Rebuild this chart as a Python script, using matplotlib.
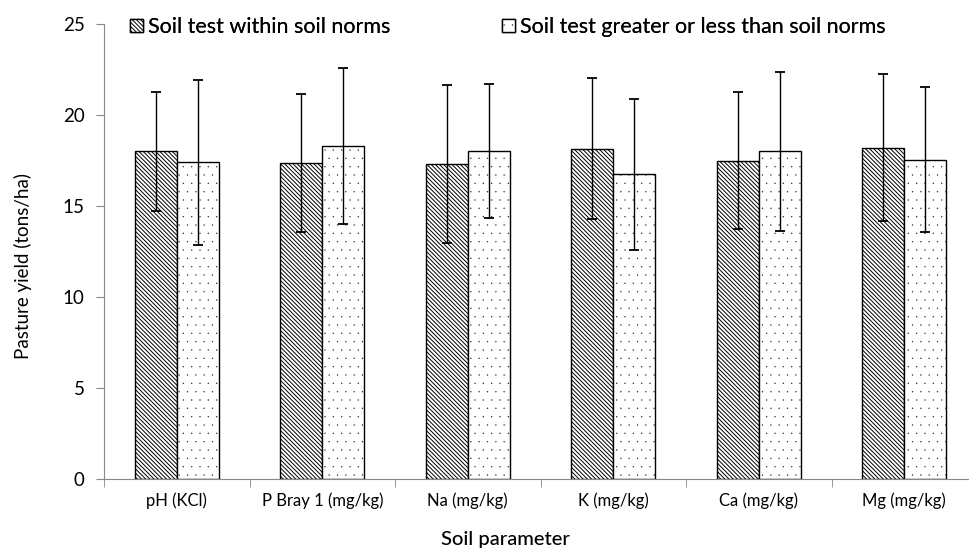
import matplotlib
matplotlib.use("Agg")
import matplotlib.pyplot as plt
import matplotlib.hatch as mhatch
import numpy as np

plt.rcParams['font.family'] = ['Lato', 'DejaVu Sans']
plt.rcParams['hatch.linewidth'] = 0.7


class TinyDots(mhatch.Circles):
    size = 0.024
    filled = True

    def __init__(self, hatch, density):
        self.num_rows = hatch.count('.') * density
        super().__init__(hatch, density)


mhatch._hatch_types = [TinyDots if t is mhatch.SmallFilledCircles else t
                       for t in mhatch._hatch_types]

categories = ["pH (KCl)", "P Bray 1 (mg/kg)", "Na (mg/kg)", "K (mg/kg)", "Ca (mg/kg)", "Mg (mg/kg)"]
within = [18.0, 17.35, 17.3, 18.15, 17.5, 18.2]
within_err = [3.28, 3.8, 4.33, 3.88, 3.75, 4.05]
outside = [17.4, 18.3, 18.0, 16.75, 18.0, 17.55]
outside_err = [4.55, 4.3, 3.68, 4.15, 4.35, 4.0]
series_labels = ["Soil test within soil norms", "Soil test greater or less than soil norms"]
yticks = [0, 5, 10, 15, 20, 25]

fig = plt.figure(figsize=(9.69, 5.53), dpi=100)
ax = fig.add_axes([104/969, 1-479/553, 873/969, 455/553])

x = np.arange(len(categories))
w = 0.29
ekw = dict(ecolor='black', elinewidth=1.0, capsize=3.5, capthick=1.3)
b1 = ax.bar(x - w/2, within, w, yerr=within_err, color='white', edgecolor='black',
            hatch='\\' * 8, linewidth=1.0, label=series_labels[0], error_kw=ekw)
b2 = ax.bar(x + w/2, outside, w, yerr=outside_err, color='white', edgecolor='black',
            hatch='..', linewidth=1.0, label=series_labels[1], error_kw=ekw)

ax.set_xlim(-0.5, len(categories) - 0.5)
ax.set_ylim(0, 25)
ax.set_yticks(yticks)
ax.tick_params(axis='y', labelsize=13.5, length=6, color='#888888', direction='out', pad=8)
ax.set_xticks(x)
ax.set_xticklabels(categories, fontsize=12)
ax.tick_params(axis='x', length=0, pad=10)
ax.set_xticks(np.arange(len(categories) + 1) - 0.5, minor=True)
ax.tick_params(axis='x', which='minor', length=6, color='#888888', direction='out')
for s in ['top', 'right']:
    ax.spines[s].set_visible(False)
for s in ['left', 'bottom']:
    ax.spines[s].set_color('#888888')
ax.set_ylabel("Pasture yield (tons/ha)", fontsize=13.5)
ax.yaxis.set_label_coords((32 - 104) / 873, (479 - 266) / 455)
ax.set_xlabel("Soil parameter", fontsize=14.5, fontweight='medium')
ax.xaxis.set_label_coords((505 - 104) / 873, (479 - 540) / 455)
ax.xaxis.label.set_verticalalignment('center')

handles = [b1, b2]
anchors = [(130 / 969, 1 - 27 / 553), (502 / 969, 1 - 27 / 553)]
for h, lab, anc in zip(handles, series_labels, anchors):
    lg = fig.legend([h], [lab], loc='center left', bbox_to_anchor=anc, frameon=False,
                    fontsize=15.5, handlelength=0.6, handleheight=0.6, handletextpad=0.25,
                    borderpad=0, borderaxespad=0)
    fig.add_artist(lg)

fig.savefig("out.png", dpi=100)
